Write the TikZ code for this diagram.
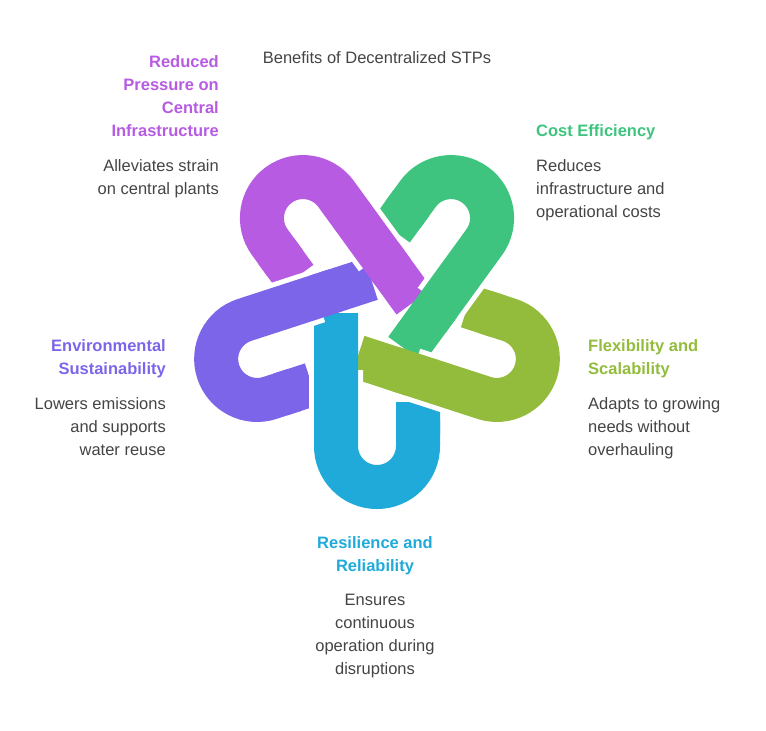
\documentclass[tikz,border=0pt]{standalone}
\usepackage{fontspec}
\setmainfont{Liberation Sans}
\definecolor{cPurple}{HTML}{B75BE3}
\definecolor{cGreen}{HTML}{3EC47E}
\definecolor{cYellow}{HTML}{93BC3C}
\definecolor{cViolet}{HTML}{7C65E8}
\definecolor{cBlue}{HTML}{1FAAD9}
\definecolor{cText}{HTML}{444444}
\tikzset{
  title/.style={font=\fontsize{16.5}{23}\selectfont\bfseries, align=#1, inner sep=0pt},
  desc/.style={font=\fontsize{16.5}{23}\selectfont, text=cText, align=#1, inner sep=0pt},
}
% one loop: long leg to #2, short leg to #3, colour #4, width #5
\newcommand{\loopband}[5]{%
  \begin{scope}[shift={(377,320)}, rotate=#1]
    \draw[#4, line width=#5pt] (-41,#2) -- (-41,126)
      arc[start angle=180, end angle=0, radius=41] -- (41,#3);
  \end{scope}}
\begin{document}
\begin{tikzpicture}[x=1pt, y=-1pt]
  \useasboundingbox (0,0) rectangle (766,731);

  % whole loops first, then the bodies over the tips
  \foreach \a/\c in {0/cBlue, 72/cYellow, 144/cGreen, 216/cPurple, 288/cViolet}
    \loopband{\a}{-7}{82}{\c}{44};
  \foreach \a in {0,72,...,288}
    \loopband{\a}{50}{115}{white}{54};
  \foreach \a/\c in {0/cBlue, 72/cYellow, 144/cGreen, 216/cPurple, 288/cViolet}
    \loopband{\a}{30}{100}{\c}{44};

  \node[desc=center, anchor=center] (head) at (377,58) {Benefits of Decentralized STPs};

  \node[title=right, text=cPurple, anchor=north east] (tPurple) at (219,55)
    {Reduced\\Pressure on\\Central\\Infrastructure};
  \node[desc=right, anchor=north east] (dPurple) at (219,159)
    {Alleviates strain\\on central plants};

  \node[title=left, text=cGreen, anchor=north west] (tGreen) at (536,124) {Cost Efficiency};
  \node[desc=left, anchor=north west] (dGreen) at (536,159)
    {Reduces\\infrastructure and\\operational costs};

  \node[title=left, text=cYellow, anchor=north west] (tYellow) at (588,339)
    {Flexibility and\\Scalability};
  \node[desc=left, anchor=north west] (dYellow) at (588,397)
    {Adapts to growing\\needs without\\overhauling};

  \node[title=right, text=cViolet, anchor=north east] (tViolet) at (166,339)
    {Environmental\\Sustainability};
  \node[desc=right, anchor=north east] (dViolet) at (166,397)
    {Lowers emissions\\and supports\\water reuse};

  \node[title=center, text=cBlue, anchor=north] (tBlue) at (375,536)
    {Resilience and\\Reliability};
  \node[desc=center, anchor=north] (dBlue) at (375,594)
    {Ensures\\continuous\\operation during\\disruptions};
\end{tikzpicture}
\end{document}
